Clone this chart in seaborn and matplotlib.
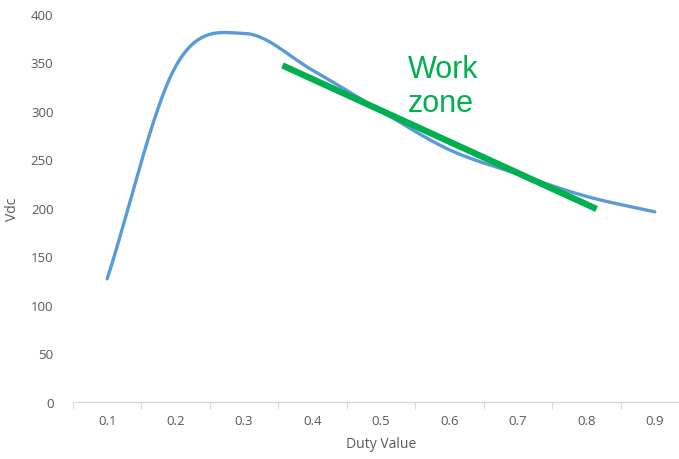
import numpy as np
import pandas as pd
import seaborn as sns
import matplotlib.pyplot as plt

duty = [0.1, 0.2, 0.3, 0.4, 0.5, 0.6, 0.7, 0.8, 0.9]
vdc = [127, 346, 380, 342, 300, 260, 235, 212, 196]

# green "work zone" trend line, end points
zone_x = [0.356, 0.815]
zone_y = [347, 199]


def smooth(x, y, n=30):
    # catmull-rom, like excel's smoothed line
    x = np.asarray(x, float)
    y = np.asarray(y, float)
    px = np.concatenate([[2 * x[0] - x[1]], x, [2 * x[-1] - x[-2]]])
    py = np.concatenate([[2 * y[0] - y[1]], y, [2 * y[-1] - y[-2]]])
    xs, ys = [], []
    t = np.linspace(0, 1, n, endpoint=False)
    for i in range(1, len(px) - 2):
        for p, out in ((px, xs), (py, ys)):
            p0, p1, p2, p3 = p[i - 1], p[i], p[i + 1], p[i + 2]
            out.extend(0.5 * ((2 * p1) + (-p0 + p2) * t
                              + (2 * p0 - 5 * p1 + 4 * p2 - p3) * t ** 2
                              + (-p0 + 3 * p1 - 3 * p2 + p3) * t ** 3))
    xs.append(x[-1])
    ys.append(y[-1])
    return np.array(xs), np.array(ys)


sns.set_style("white")
plt.rcParams['font.family'] = ['Open Sans', 'DejaVu Sans']

fig = plt.figure(figsize=(6.79, 4.60), dpi=100)
ax = fig.add_axes([73 / 679, 57 / 460, 616 / 679, 388 / 460])

sx, sy = smooth(duty, vdc)
curve = pd.DataFrame({"duty": sx, "vdc": sy})
sns.lineplot(data=curve, x="duty", y="vdc", ax=ax, color="#5B9BD5",
             linewidth=2.4, sort=False, estimator=None,
             solid_capstyle="round")

zone = pd.DataFrame({"duty": zone_x, "vdc": zone_y})
sns.lineplot(data=zone, x="duty", y="vdc", ax=ax, color="#00B050",
             linewidth=4.6, estimator=None, solid_capstyle="butt")

ax.text(0.539, 359, "Work\nzone", color="#00B050", fontsize=22,
        family="Liberation Sans", va="top", ha="left", linespacing=1.2)

ax.set_xlim(0.05, 0.95)
ax.set_ylim(0, 400)
ax.set_xticks(duty)
ax.set_xticklabels([f"{d:.1f}" for d in duty])
ax.set_xticks(np.arange(0.05, 0.96, 0.1), minor=True)
ax.set_yticks(range(0, 401, 50))

ax.tick_params(axis="x", which="major", length=0, pad=9, labelsize=9.5,
               colors="#595959")
ax.tick_params(axis="x", which="minor", length=5, width=0.8,
               color="#d9d9d9", direction="out", bottom=True)
ax.tick_params(axis="y", length=0, pad=14, labelsize=9.5, colors="#595959")

for s in ["top", "right", "left"]:
    ax.spines[s].set_visible(False)
ax.spines["bottom"].set_color("#d9d9d9")
ax.spines["bottom"].set_linewidth(0.9)

ax.set_xlabel("Duty Value", color="#595959", fontsize=10, labelpad=6)
ax.set_ylabel("Vdc", color="#595959", fontsize=10, labelpad=8)

fig.savefig("out.png", dpi=100)
